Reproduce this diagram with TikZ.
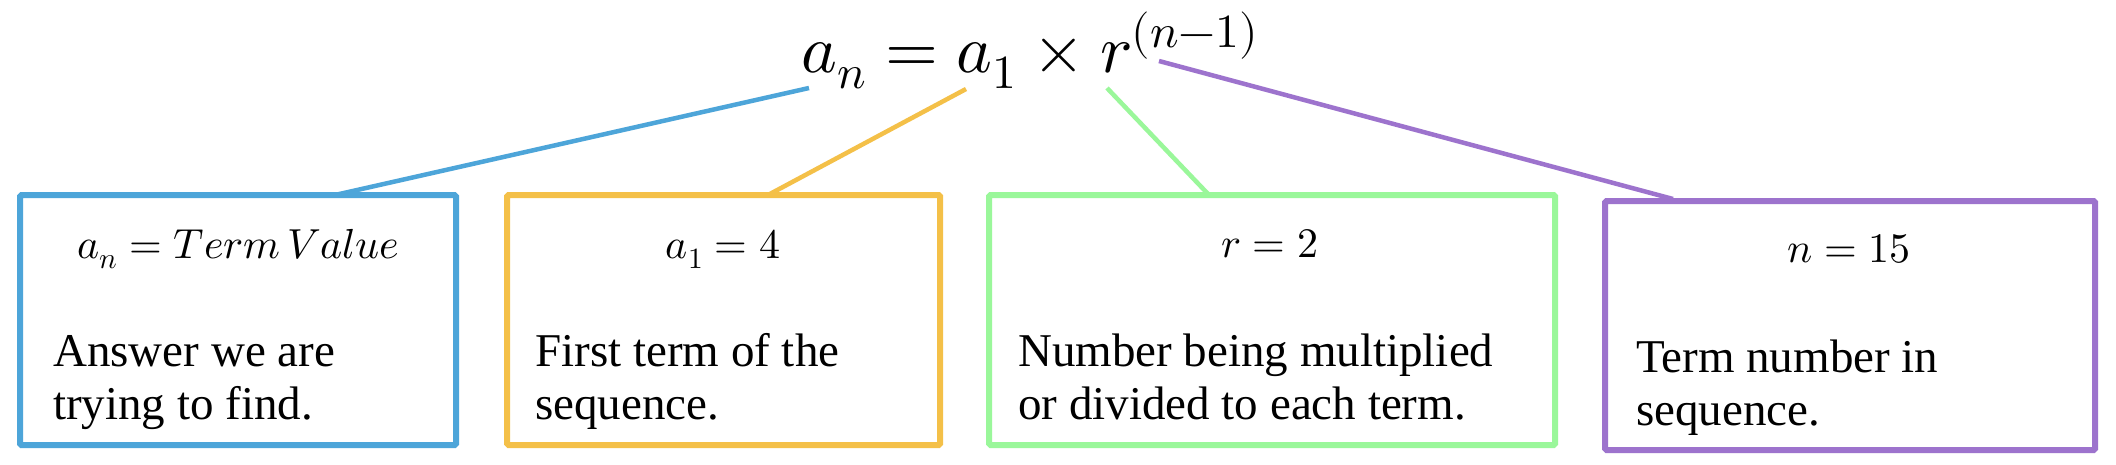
\documentclass[tikz,border=0pt]{standalone}
\usepackage{fontspec}
\usepackage{unicode-math}
\setmainfont{Liberation Serif}
\setmathfont{Latin Modern Math}
\definecolor{cblue}{RGB}{77,165,217}
\definecolor{corange}{RGB}{244,192,72}
\definecolor{cgreen}{RGB}{154,247,154}
\definecolor{cpurple}{RGB}{157,115,205}
\begin{document}
\begin{tikzpicture}[x=1pt,y=-1pt,
  box/.style={draw=#1, line width=6pt, rounded corners=1.5pt, inner sep=0pt, minimum height=250pt},
  conn/.style={draw=#1, line width=4.5pt},
  head/.style={anchor=base, inner sep=0pt, font=\fontsize{42}{46}\selectfont},
  body/.style={anchor=base west, inner sep=0pt, align=left, font=\fontsize{47}{53}\selectfont},
  formula/.style={anchor=base, inner sep=0pt, font=\fontsize{68}{80}\selectfont}]
\useasboundingbox (0,0) rectangle (2116,464);
\fill[white] (0,0) rectangle (2116,464);

\node[formula] (f) at (1030,72) {$a_n = a_1 \times r^{(n-1)}$};

\node[box=cblue, minimum width=436pt] (bb) at (238,320) {};
\node[box=corange, minimum width=433pt] (ob) at (723.5,320) {};
\node[box=cgreen, minimum width=566pt] (gb) at (1272,320) {};
\node[box=cpurple, minimum width=490pt, minimum height=249pt] (pb) at (1850,325.5) {};

\node[head] (bh) at (238,258) {$a_n = Term\,Value$};
\node[head] (oh) at (723,258) {$a_1 = 4$};
\node[head] (gh) at (1270,257) {$r = 2$};
\node[head] (ph) at (1849,262) {$n = 15$};

\node[body] (bt) at (53,419) {Answer we are\\trying to find.};
\node[body] (ot) at (535,419) {First term of the\\sequence.};
\node[body] (gt) at (1018,419) {Number being multiplied\\or divided to each term.};
\node[body] (pt) at (1636,425) {Term number in\\sequence.};

\coordinate (c1a) at (809,88);  \coordinate (c1b) at (335,195);
\coordinate (c2a) at (966,89);  \coordinate (c2b) at (768,195);
\coordinate (c3a) at (1107,88); \coordinate (c3b) at (1209,195);
\coordinate (c4a) at (1159,61); \coordinate (c4b) at (1673,199);

\draw[conn=cblue] (c1a) -- (c1b);
\draw[conn=corange] (c2a) -- (c2b);
\draw[conn=cgreen] (c3a) -- (c3b);
\draw[conn=cpurple] (c4a) -- (c4b);
\end{tikzpicture}
\end{document}
